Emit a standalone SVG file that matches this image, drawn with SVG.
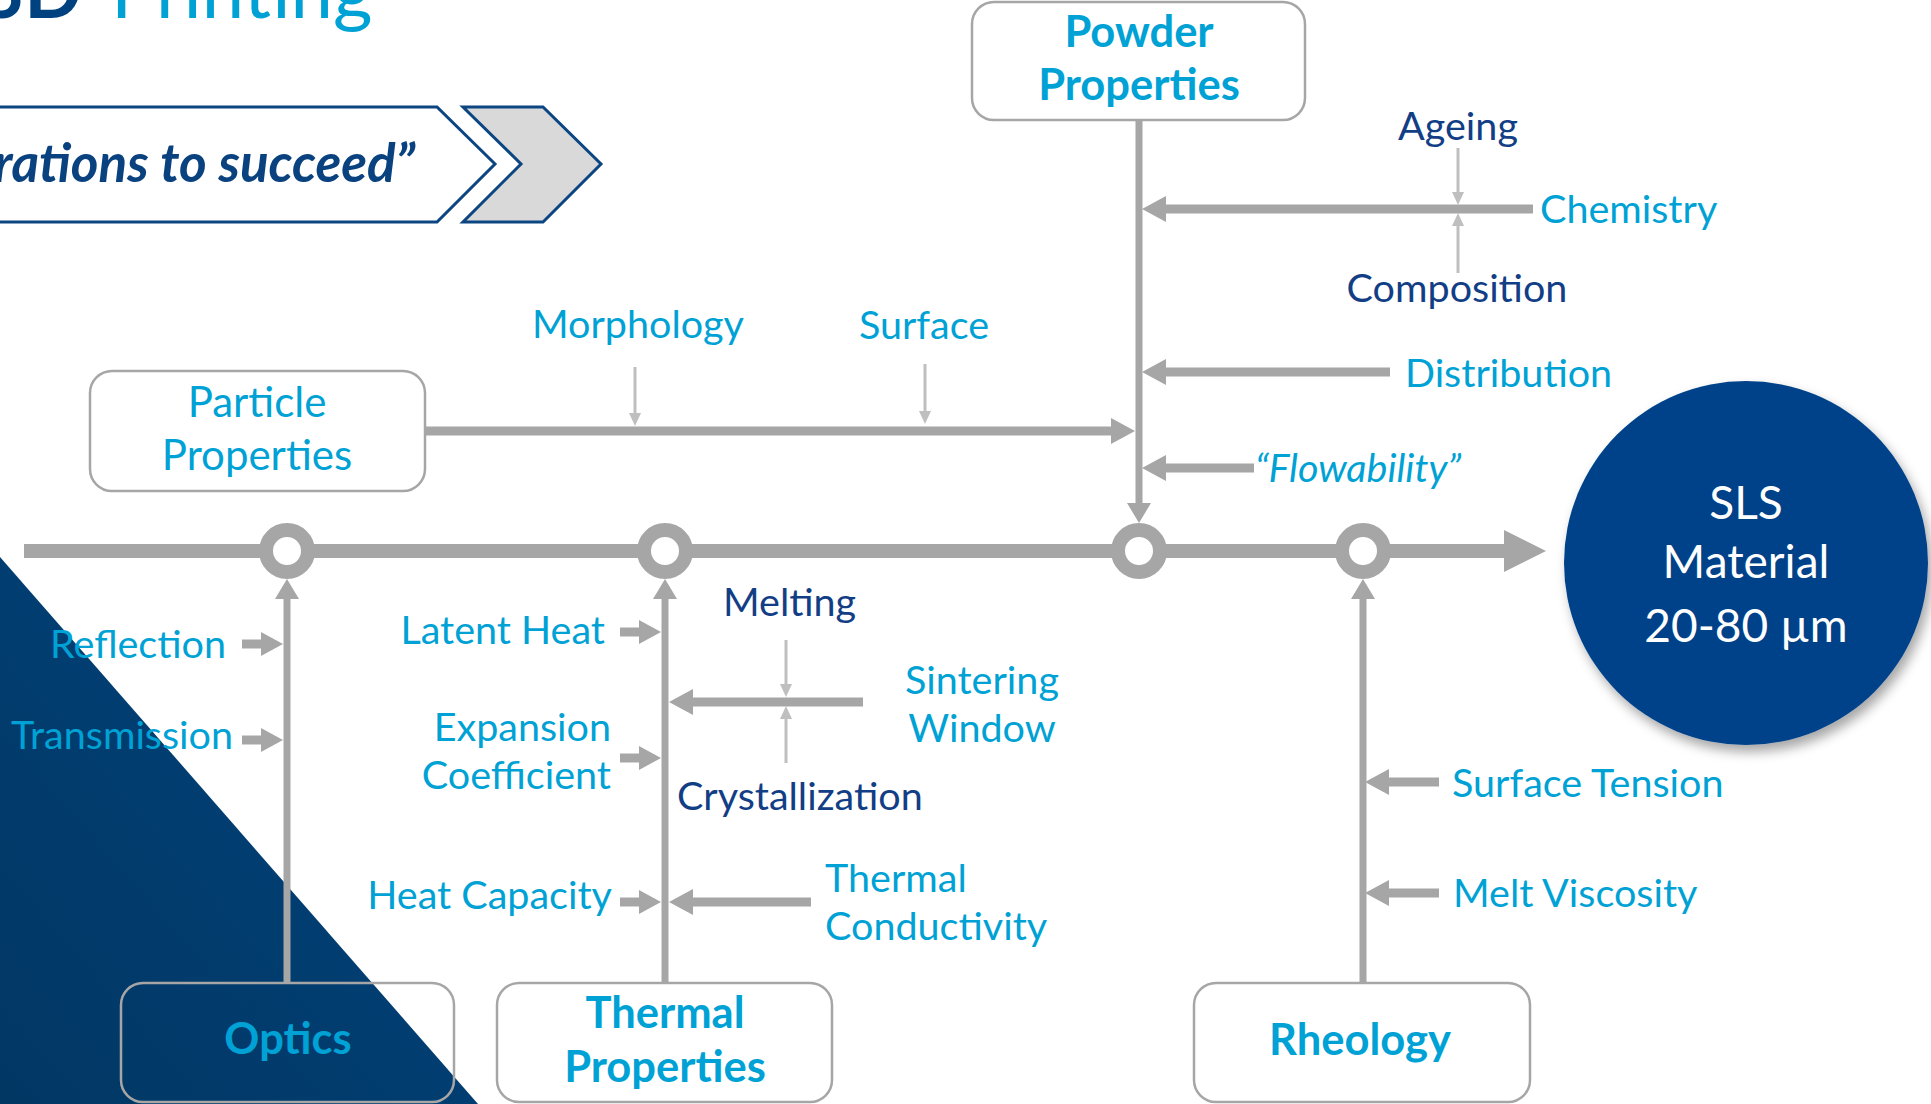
<svg xmlns="http://www.w3.org/2000/svg" width="1931" height="1104" viewBox="0 0 1931 1104">
<defs>
<style>
.t{font-family:Lato,"Liberation Sans",sans-serif;font-size:39.5px;fill:#00A2D5}
.d{fill:#123E86}
.b{font-weight:bold;font-size:43.5px}
.n{font-size:42px}
.m{text-anchor:middle}
.e{text-anchor:end}
.w{font-size:46px;fill:#FFFFFF}
.box{fill:none;stroke:#A6A6A6;stroke-width:2.5}
.ln{stroke:#A6A6A6;fill:none}
.thin{stroke:#BFBFBF;stroke-width:3;fill:none}
</style>
<linearGradient id="tri" x1="1" y1="0" x2="0" y2="1">
<stop offset="0" stop-color="#03447F"/>
<stop offset="1" stop-color="#013763"/>
</linearGradient>
<filter id="sh" x="-20%" y="-20%" width="150%" height="150%">
<feDropShadow dx="4" dy="7" stdDeviation="6" flood-color="#000" flood-opacity="0.35"/>
</filter>
<marker id="ah" markerUnits="userSpaceOnUse" markerWidth="24" markerHeight="26" refX="0" refY="13" orient="auto" viewBox="0 0 24 26">
<path d="M0,0 L24,13 L0,26 Z" fill="#A6A6A6"/>
</marker>
<marker id="ahS" markerUnits="userSpaceOnUse" markerWidth="22" markerHeight="24" refX="0" refY="12" orient="auto" viewBox="0 0 22 24">
<path d="M0,0 L22,12 L0,24 Z" fill="#A6A6A6"/>
</marker>
<marker id="ahV" markerUnits="userSpaceOnUse" markerWidth="20" markerHeight="24" refX="0" refY="12" orient="auto" viewBox="0 0 20 24">
<path d="M0,0 L20,12 L0,24 Z" fill="#A6A6A6"/>
</marker>
<marker id="ahBig" markerUnits="userSpaceOnUse" markerWidth="42" markerHeight="42" refX="0" refY="21" orient="auto" viewBox="0 0 42 42">
<path d="M0,0 L42,21 L0,42 Z" fill="#A6A6A6"/>
</marker>
<marker id="ahT" markerUnits="userSpaceOnUse" markerWidth="13" markerHeight="12" refX="0" refY="6" orient="auto" viewBox="0 0 13 12">
<path d="M0,0 L13,6 L0,12 Z" fill="#BFBFBF"/>
</marker>
</defs>
<rect width="1931" height="1104" fill="#FFFFFF"/>
<polygon points="0,557 478,1104 0,1104" fill="url(#tri)"/>

<g id="title">
<text x="82" y="18" class="t e" style="font-size:76px;font-weight:bold;fill:#00427F">3D</text>
<text x="111" y="18" class="t" style="font-size:76px">Printing</text>
</g>
<g id="banner">
<polygon points="-5,107 437,107 495,164 437,222 -5,222" fill="#FFFFFF" stroke="#0B4582" stroke-width="3"/>
<polygon points="463,107 543,107 601,164 543,222 463,222 521,164" fill="#D9D9D9" stroke="#0B4582" stroke-width="3"/>
<text x="415" y="182" class="t e" style="font-size:53px;font-weight:bold;font-style:italic;fill:#0A427F">erations to succeed”</text>
</g>

<g id="connectors">
<line class="ln" x1="24" y1="551" x2="1504" y2="551" stroke-width="14" marker-end="url(#ahBig)"/>
<line class="ln" x1="1139" y1="120" x2="1139" y2="503" stroke-width="7" marker-end="url(#ahV)"/>
<line class="ln" x1="287" y1="983" x2="287" y2="599" stroke-width="7" marker-end="url(#ahV)"/>
<line class="ln" x1="665" y1="983" x2="665" y2="599" stroke-width="7" marker-end="url(#ahV)"/>
<line class="ln" x1="1363" y1="983" x2="1363" y2="599" stroke-width="7" marker-end="url(#ahV)"/>
<line class="ln" x1="426" y1="431" x2="1111" y2="431" stroke-width="9" marker-end="url(#ah)"/>
<line class="ln" x1="1533" y1="209" x2="1166" y2="209" stroke-width="9" marker-end="url(#ah)"/>
<line class="ln" x1="1390" y1="372" x2="1166" y2="372" stroke-width="9" marker-end="url(#ah)"/>
<line class="ln" x1="1254" y1="468" x2="1166" y2="468" stroke-width="9" marker-end="url(#ah)"/>
<line class="ln" x1="242" y1="644" x2="261" y2="644" stroke-width="9" marker-end="url(#ahS)"/>
<line class="ln" x1="242" y1="740" x2="261" y2="740" stroke-width="9" marker-end="url(#ahS)"/>
<line class="ln" x1="620" y1="632" x2="639" y2="632" stroke-width="9" marker-end="url(#ahS)"/>
<line class="ln" x1="620" y1="758" x2="639" y2="758" stroke-width="9" marker-end="url(#ahS)"/>
<line class="ln" x1="620" y1="902" x2="639" y2="902" stroke-width="9" marker-end="url(#ahS)"/>
<line class="ln" x1="863" y1="702" x2="693" y2="702" stroke-width="9" marker-end="url(#ah)"/>
<line class="ln" x1="811" y1="902" x2="693" y2="902" stroke-width="9" marker-end="url(#ah)"/>
<line class="ln" x1="1439" y1="782" x2="1389" y2="782" stroke-width="9" marker-end="url(#ah)"/>
<line class="ln" x1="1439" y1="893" x2="1389" y2="893" stroke-width="9" marker-end="url(#ah)"/>
<line class="thin" x1="1458" y1="148" x2="1458" y2="192" marker-end="url(#ahT)"/>
<line class="thin" x1="1458" y1="273" x2="1458" y2="226" marker-end="url(#ahT)"/>
<line class="thin" x1="635" y1="367" x2="635" y2="413" marker-end="url(#ahT)"/>
<line class="thin" x1="925" y1="364" x2="925" y2="411" marker-end="url(#ahT)"/>
<line class="thin" x1="786" y1="640" x2="786" y2="684" marker-end="url(#ahT)"/>
<line class="thin" x1="786" y1="763" x2="786" y2="719" marker-end="url(#ahT)"/>
<g fill="#FFFFFF" stroke="#A6A6A6" stroke-width="14">
<circle cx="287" cy="551" r="21"/>
<circle cx="665" cy="551" r="21"/>
<circle cx="1139" cy="551" r="21"/>
<circle cx="1363" cy="551" r="21"/>
</g>
</g>

<g id="powder">
<rect class="box" x="972" y="2" width="333" height="118" rx="22"/>
<text x="1139" y="47" class="t b m">Powder</text>
<text x="1139" y="100" class="t b m">Properties</text>
</g>
<g id="particle">
<rect class="box" x="90" y="371" width="335" height="120" rx="22"/>
<text x="257" y="417" class="t n m">Particle</text>
<text x="257" y="470" class="t n m">Properties</text>
</g>
<g id="optics">
<rect class="box" x="121" y="983" width="333" height="119" rx="22"/>
<text x="288" y="1054" class="t b m">Optics</text>
</g>
<g id="thermal">
<rect class="box" x="497" y="983" width="335" height="119" rx="22"/>
<text x="665" y="1028" class="t b m">Thermal</text>
<text x="665" y="1082" class="t b m">Properties</text>
</g>
<g id="rheology">
<rect class="box" x="1194" y="983" width="336" height="119" rx="22"/>
<text x="1360" y="1055" class="t b m">Rheology</text>
</g>
<g id="sls">
<circle cx="1746" cy="563" r="182" fill="#03438A" filter="url(#sh)"/>
<text x="1746" y="519" class="t w m">SLS</text>
<text x="1746" y="578" class="t w m">Material</text>
<text x="1746" y="642" class="t w m">20-80 µm</text>
</g>

<g id="labels">
<text x="1458" y="140" class="t d m">Ageing</text>
<text x="1540" y="223" class="t">Chemistry</text>
<text x="1457" y="302" class="t d m">Composition</text>
<text x="1405" y="387" class="t">Distribution</text>
<text x="1255" y="482" class="t" style="font-style:italic">“Flowability”</text>
<text x="638" y="338" class="t m">Morphology</text>
<text x="924" y="339" class="t m">Surface</text>
<text x="226" y="658" class="t e">Reflection</text>
<text x="233" y="749" class="t e">Transmission</text>
<text x="605" y="644" class="t e">Latent Heat</text>
<text x="611" y="741" class="t e">Expansion</text>
<text x="611" y="789" class="t e">Coefficient</text>
<text x="612" y="909" class="t e">Heat Capacity</text>
<text x="723" y="616" class="t d">Melting</text>
<text x="982" y="694" class="t m">Sintering</text>
<text x="982" y="742" class="t m">Window</text>
<text x="677" y="810" class="t d">Crystallization</text>
<text x="825" y="892" class="t">Thermal</text>
<text x="825" y="940" class="t">Conductivity</text>
<text x="1452" y="797" class="t">Surface Tension</text>
<text x="1453" y="907" class="t">Melt Viscosity</text>
</g>
</svg>
